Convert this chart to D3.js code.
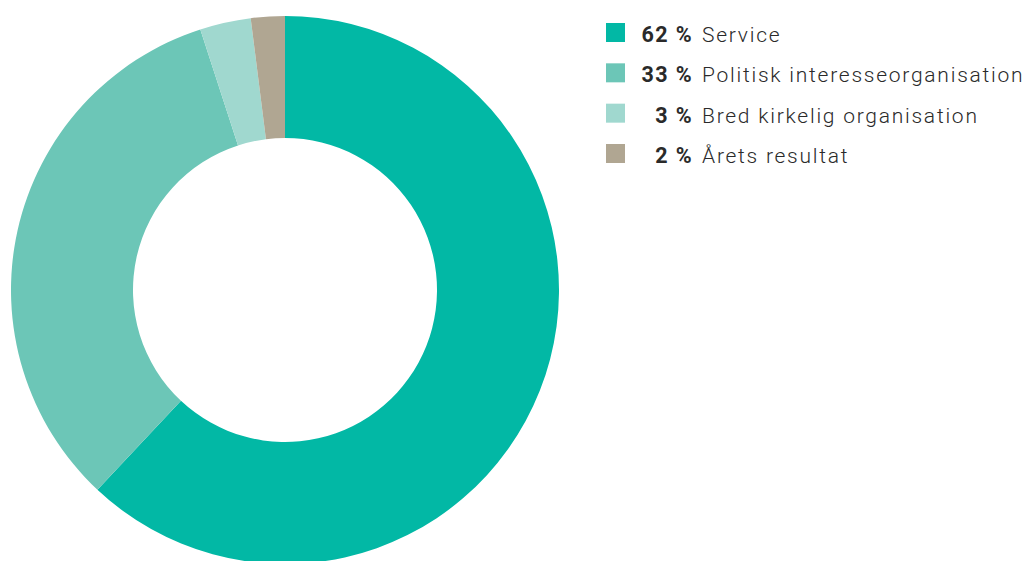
<!DOCTYPE html>
<html>
<head>
<meta charset="utf-8">
<script src="https://cdn.jsdelivr.net/npm/d3@7"></script>
<style>
  body { margin: 0; background: #fff; }
  svg { display: block; }
</style>
</head>
<body>
<script>
// data
var categories = ["Service", "Politisk interesseorganisation", "Bred kirkelig organisation", "Årets resultat"];
var values = [62, 33, 3, 2];
var percentLabels = ["62 %", "33 %", "3 %", "2 %"];
var colors = ["#02b8a5", "#6cc6b7", "#a0d8cf", "#b0a692"];

var width = 1025, height = 561;

var svg = d3.select("body").append("svg")
    .attr("width", width)
    .attr("height", height);

var cx = 285, cy = 290, outerR = 274, innerR = 152;

var pie = d3.pie().sort(null).value(function(d) { return d; });
var arc = d3.arc().innerRadius(innerR).outerRadius(outerR);

var color = d3.scaleOrdinal().domain(categories).range(colors);

svg.append("g")
    .attr("transform", "translate(" + cx + "," + cy + ")")
  .selectAll("path")
    .data(pie(values))
  .enter().append("path")
    .attr("d", arc)
    .attr("fill", function(d, i) { return color(categories[i]); });

// legend
var rowY = d3.scalePoint().domain(categories).range([42, 163]);

var legend = svg.selectAll(".legend")
    .data(categories)
  .enter().append("g")
    .attr("class", "legend")
    .attr("transform", function(d) { return "translate(0," + rowY(d) + ")"; });

legend.append("rect")
    .attr("x", 606)
    .attr("y", -19)
    .attr("width", 19)
    .attr("height", 19)
    .attr("fill", function(d) { return color(d); });

// percent, bold, right aligned
legend.append("text")
    .attr("x", 693)
    .attr("text-anchor", "end")
    .attr("font-family", "Roboto")
    .attr("font-weight", "bold")
    .attr("font-size", 21.5)
    .attr("letter-spacing", 1.4)
    .attr("fill", "#2a2a2a")
    .text(function(d, i) { return percentLabels[i]; });

legend.append("text")
    .attr("x", 702)
    .attr("font-family", "Roboto")
    .attr("font-weight", 300)
    .attr("font-size", 21)
    .attr("letter-spacing", 1.75)
    .attr("fill", "#2a2a2a")
    .text(function(d) { return d; });
</script>
</body>
</html>
